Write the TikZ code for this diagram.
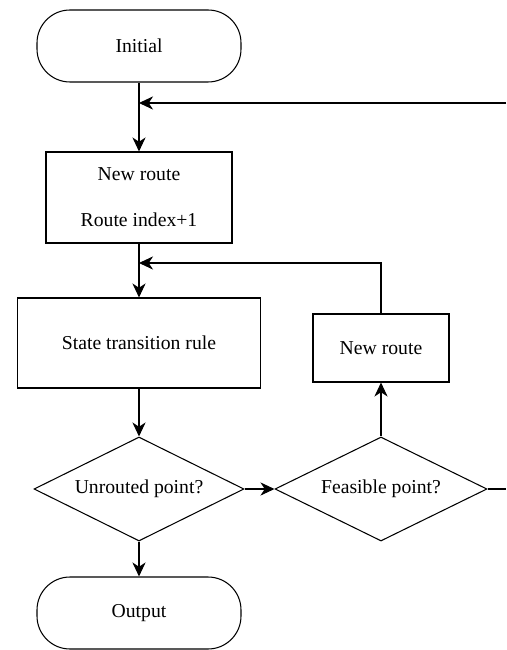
\documentclass[tikz,border=0pt]{standalone}
\usepackage{fontspec}
\setmainfont{Liberation Serif}
\usetikzlibrary{arrows.meta,positioning,shapes.geometric}
\tikzstyle{termNode} = [rectangle, minimum width=4.08cm, minimum height=1.44cm, text centered, rounded corners=0.66cm, draw=black, line width=0.6pt]
\tikzstyle{recNode} = [rectangle, text centered, draw=black, line width=0.6pt]
\tikzstyle{decNode} = [diamond, aspect=2, inner sep=0pt, text centered, draw=black, line width=0.6pt]
\tikzstyle{arrow} = [line width=0.6pt,-{Stealth[length=8pt,width=7.5pt,inset=2.5pt]},draw=black]
\tikzstyle{line} = [line width=0.6pt,draw=black]

\begin{document}
\begin{tikzpicture}[font=\fontsize{11.2}{13}\selectfont]
        \useasboundingbox (0,0) rectangle (10.12,-13);
        \node (init) [termNode] at (2.78,-0.92) {Initial};
        \node (nr1) [recNode, minimum width=3.72cm, minimum height=1.82cm, align=center] at (2.78,-3.95) {New route\\[0.46cm]Route index+1};
        \node (str) [recNode, minimum width=4.86cm, minimum height=1.8cm] at (2.78,-6.86) {State transition rule};
        \node (nr2) [recNode, minimum width=2.72cm, minimum height=1.36cm] at (7.62,-6.96) {New route};
        \node (d1) [decNode, minimum width=4.2cm, minimum height=2.08cm] at (2.78,-9.78) {Unrouted point?};
        \node (d2) [decNode, minimum width=4.24cm, minimum height=2.08cm] at (7.62,-9.78) {Feasible point?};
        \node (out) [termNode] at (2.78,-12.26) {Output};

        % loose ends at the right border
        \coordinate (r1) at (10.12,-2.06);
        \coordinate (r2) at (10.12,-9.78);
        \coordinate (j2) at (2.78,-5.26);

        \draw [arrow] (init) -- (nr1);
        \draw [arrow] (r1) -- (r1 -| init.south);
        \draw [arrow] (nr1) -- (str);
        \draw [arrow] (nr2.north) |- (j2);
        \draw [arrow] (str) -- (d1);
        \draw [arrow] (d1.east) -- (d2.west);
        \draw [arrow] (d2.north) -- (nr2.south);
        \draw [line] (d2.east) -- (r2);
        \draw [arrow] (d1) -- (out);

    \end{tikzpicture}
\end{document}
